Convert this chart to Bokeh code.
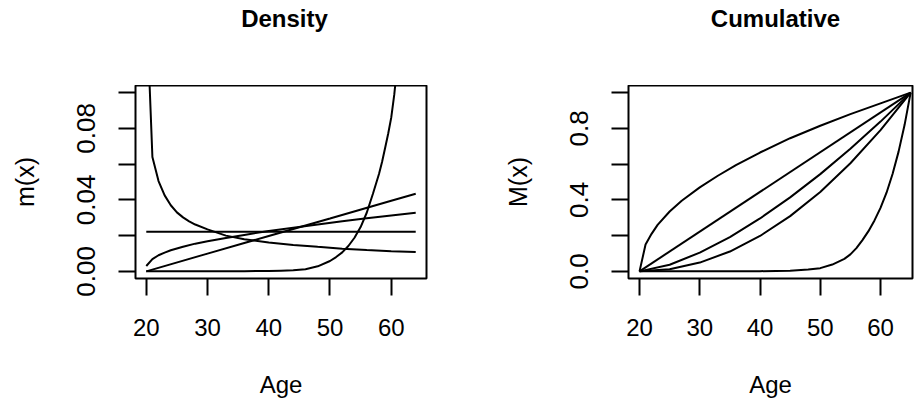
from bokeh.plotting import figure
from bokeh.layouts import row, column
from bokeh.models import FixedTicker, Range1d, PrintfTickFormatter
from bokeh.core.properties import value
from bokeh.embed import file_html
from bokeh.resources import INLINE

FONT = "Liberation Sans"

# ---------------- Density panel data ----------------
age_uni = [20, 64]
m_uni = [0.0222, 0.0222]

age_lin = [20, 30, 40, 50, 60, 64]
m_lin = [0.0, 0.0099, 0.0198, 0.0296, 0.0395, 0.0434]

age_sqrt = [20, 21, 22, 23, 24, 26, 28, 30, 33, 36, 40, 44, 48, 52, 56, 60, 64]
m_sqrt = [0.0030, 0.0068, 0.0090, 0.0105, 0.0118, 0.0138, 0.0155, 0.0168,
          0.0187, 0.0204, 0.0226, 0.0244, 0.0262, 0.0280, 0.0297, 0.0313, 0.0328]

age_dec = [20.5, 21, 22, 23, 24, 25, 26, 27, 28, 30, 33, 36, 40, 44, 48, 52, 56, 60, 64]
m_dec = [0.108, 0.064, 0.0505, 0.0425, 0.0370, 0.0330, 0.0302, 0.0280, 0.0262,
         0.0235, 0.0200, 0.0180, 0.0162, 0.0148, 0.0137, 0.0127, 0.0119, 0.0113, 0.0108]

age_exp = [20, 30, 36, 40, 42, 44, 46, 48, 50, 51, 52, 53, 54, 55, 56, 57, 58,
           58.5, 59, 59.5, 60, 60.5, 61]
m_exp = [0.0, 0.0, 0.0001, 0.0002, 0.0004, 0.0006, 0.0012, 0.0028, 0.0058, 0.0080,
         0.0106, 0.0142, 0.0188, 0.0248, 0.0328, 0.0433, 0.0545,
         0.0612, 0.0690, 0.0770, 0.0860, 0.0990, 0.116]

# ---------------- Cumulative panel data ----------------
age_c_sqrt = [20, 21, 22, 23, 25, 27, 30, 33, 36, 40, 45, 50, 55, 60, 65]
M_sqrt = [0.0, 0.15, 0.21, 0.26, 0.335, 0.395, 0.47, 0.535, 0.595, 0.665,
          0.745, 0.815, 0.88, 0.94, 1.0]

age_c_uni = [20, 65]
M_uni = [0.0, 1.0]

age_c_pow = [20, 25, 30, 35, 40, 45, 50, 55, 60, 65]
M_p15 = [0.0, 0.037, 0.105, 0.192, 0.296, 0.414, 0.544, 0.686, 0.838, 1.0]
M_p2 = [0.0, 0.012, 0.049, 0.111, 0.198, 0.309, 0.444, 0.605, 0.790, 1.0]

age_c_exp = [20, 40, 45, 48, 50, 52, 54, 55, 56, 57, 58, 59, 60, 61, 62, 63, 64, 65]
M_exp = [0.0, 0.001, 0.004, 0.010, 0.018, 0.038, 0.070, 0.095, 0.130, 0.175,
         0.225, 0.285, 0.355, 0.440, 0.545, 0.670, 0.820, 1.0]

titles = ["Density", "Cumulative"]
x_ticks = [20, 30, 40, 50, 60]
dens_major = [0.0, 0.04, 0.08]
dens_minor = [0.02, 0.06, 0.10]
cum_major = [0.0, 0.4, 0.8]
cum_minor = [0.2, 0.6, 1.0]

# ---------------- title strip (pixel coordinates) ----------------
top = figure(width=914, height=85, x_range=Range1d(0, 914), y_range=Range1d(0, 85),
             min_border=0, x_axis_location=None, y_axis_location=None,
             toolbar_location=None, output_backend="svg")
top.grid.visible = False
top.xgrid.visible = False
top.ygrid.visible = False
top.outline_line_color = None
top.background_fill_color = "white"
top.border_fill_color = "white"
top.text(x=[284, 775], y=[67, 67], text=titles,
         text_font=value(FONT), text_font_size="24px", text_font_style="bold",
         text_color="black", text_align="center", text_baseline="middle")


def make(ylabel, xr, yr, major, minor, fmt, mb_left, mb_right):
    p = figure(width=457, height=326, x_range=Range1d(*xr), y_range=Range1d(*yr),
               output_backend="svg", toolbar_location=None,
               min_border_left=mb_left, min_border_right=mb_right,
               min_border_top=0, min_border_bottom=133,
               x_axis_label="Age", y_axis_label=ylabel)
    p.grid.visible = False
    p.outline_line_color = "black"
    p.outline_line_width = 2
    p.background_fill_color = "white"
    p.border_fill_color = "white"
    p.xaxis.ticker = FixedTicker(ticks=x_ticks)
    p.yaxis.ticker = FixedTicker(ticks=major, minor_ticks=minor)
    p.yaxis.formatter = PrintfTickFormatter(format=fmt)
    p.yaxis.major_label_orientation = "vertical"
    for ax in (p.xaxis[0], p.yaxis[0]):
        ax.axis_line_color = None
        ax.major_tick_in = 0
        ax.major_tick_out = 17
        ax.minor_tick_in = 0
        ax.minor_tick_out = 17
        ax.major_tick_line_width = 2
        ax.minor_tick_line_width = 2
        ax.major_tick_line_color = "black"
        ax.minor_tick_line_color = "black"
        ax.major_label_text_font = FONT
        ax.major_label_text_color = "black"
        ax.axis_label_text_font = FONT
        ax.axis_label_text_font_style = "normal"
        ax.axis_label_text_color = "black"
    p.xaxis.minor_tick_line_color = None
    p.xaxis.major_label_text_font_size = "24px"
    p.xaxis.axis_label_text_font_size = "24px"
    p.yaxis.major_label_text_font_size = "26px"
    p.yaxis.axis_label_text_font_size = "25px"
    p.xaxis.major_label_standoff = 23
    p.xaxis.axis_label_standoff = 32
    p.yaxis.major_label_standoff = 23
    p.yaxis.axis_label_standoff = 36
    return p


p1 = make("m(x)", (18.24, 65.76), (-0.004, 0.104),
          dens_major, dens_minor, "%.2f", 135, 31)
lw = 2
p1.line(age_uni, m_uni, line_color="black", line_width=lw)
p1.line(age_lin, m_lin, line_color="black", line_width=lw)
p1.line(age_sqrt, m_sqrt, line_color="black", line_width=lw)
p1.line(age_dec, m_dec, line_color="black", line_width=lw)
p1.line(age_exp, m_exp, line_color="black", line_width=lw)

p2 = make("M(x)", (18.17, 65.31), (-0.04, 1.04),
          cum_major, cum_minor, "%.1f", 171, 2)
p2.line(age_c_sqrt, M_sqrt, line_color="black", line_width=lw)
p2.line(age_c_uni, M_uni, line_color="black", line_width=lw)
p2.line(age_c_pow, M_p15, line_color="black", line_width=lw)
p2.line(age_c_pow, M_p2, line_color="black", line_width=lw)
p2.line(age_c_exp, M_exp, line_color="black", line_width=lw)

layout = column(top, row(p1, p2))
open("out.html", "w").write(file_html(layout, INLINE))
